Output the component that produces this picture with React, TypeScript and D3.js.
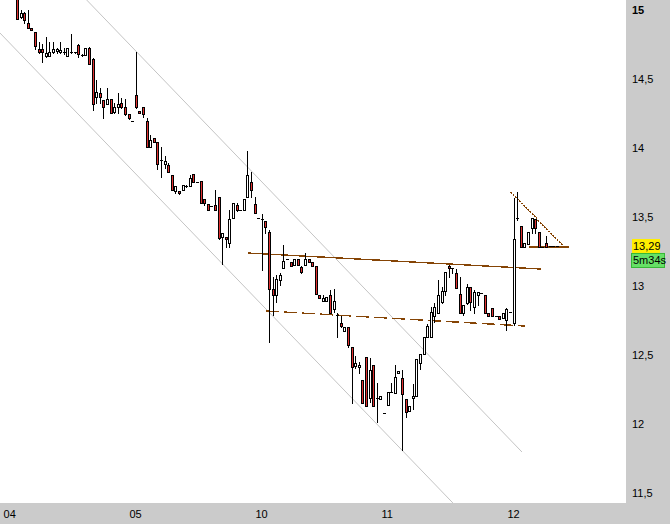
import { scaleLinear } from "d3";

// 15-min candles, index 0 = first visible bar
const open = [
  15.09, 14.949, 14.978, 14.906, 14.87, 14.841, 14.717, 14.717, 14.667, 14.667,
  14.696, 14.703, 14.696, 14.696, 14.667, 14.696, 14.696, 14.746, 14.674, 14.674,
  14.725, 14.645, 14.37, 14.399, 14.348, 14.319, 14.355, 14.261, 14.297, 14.326,
  14.297, 14.246, 14.196, 14.384, 14.268, 14.297, 14.196, 14.007, 14.072, 14.043,
  13.913, 13.884, 13.877, 13.804, 13.688, 13.688, 13.696, 13.725, 13.725, 13.812,
  13.754, 13.761, 13.63, 13.594, 13.58, 13.587, 13.645, 13.355, 13.355, 13.312,
  13.493, 13.587, 13.551, 13.551, 13.645, 13.754, 13.594, 13.493, 13.486, 13.471,
  13.391, 12.978, 12.935, 13.043, 13.13, 13.196, 13.174, 13.152, 13.196, 13.138,
  13.152, 13.196, 13.174, 13.145, 12.935, 12.891, 12.891, 12.935, 12.833, 12.79,
  12.732, 12.674, 12.703, 12.558, 12.42, 12.413, 12.319, 12.486, 12.188, 12.428,
  12.188, 12.181, 12.08, 12.138, 12.232, 12.225, 12.37, 12.333, 12.181, 12.094,
  12.188, 12.203, 12.442, 12.507, 12.63, 12.63, 12.783, 12.804, 12.884, 12.964,
  13.145, 13.13, 13.094, 12.942, 12.804, 12.877, 12.993, 12.848, 12.935, 12.949,
  12.935, 12.804, 12.841, 12.783, 12.783, 12.768, 12.754, 12.812, 12.732, 13.493,
  13.435, 13.283, 13.304, 13.42, 13.486, 13.391, 13.283, 13.312, 13.29, 13.29, 13.29
];
const high = [
  15.1, 15.0, 14.986, 15.0, 14.87, 14.841, 14.768, 14.754, 14.804, 14.768,
  14.768, 14.725, 14.768, 14.725, 14.725, 14.826, 14.696, 14.754, 14.681, 14.725,
  14.732, 14.652, 14.493, 14.435, 14.348, 14.435, 14.355, 14.326, 14.399, 14.362,
  14.355, 14.246, 14.196, 14.696, 14.268, 14.297, 14.217, 14.094, 14.072, 14.043,
  14.007, 13.942, 13.891, 13.804, 13.725, 13.688, 13.732, 13.732, 13.804, 13.812,
  13.754, 13.761, 13.63, 13.594, 13.58, 13.696, 13.645, 13.384, 13.355, 13.551,
  13.601, 13.601, 13.551, 13.63, 13.978, 13.826, 13.645, 13.493, 13.522, 13.471,
  13.406, 13.065, 13.08, 13.094, 13.297, 13.196, 13.174, 13.196, 13.196, 13.145,
  13.239, 13.196, 13.174, 13.145, 12.935, 12.935, 12.92, 12.971, 12.978, 12.804,
  12.783, 12.703, 12.703, 12.558, 12.493, 12.449, 12.319, 12.486, 12.478, 12.428,
  12.297, 12.203, 12.08, 12.232, 12.297, 12.428, 12.384, 12.391, 12.181, 12.13,
  12.29, 12.471, 12.507, 12.63, 12.725, 12.848, 12.877, 13.043, 12.993, 13.101,
  13.152, 13.13, 13.123, 13.065, 12.862, 13.014, 12.993, 12.971, 12.957, 12.949,
  12.935, 12.804, 12.841, 12.783, 12.783, 12.804, 12.841, 12.812, 13.638, 13.681,
  13.435, 13.312, 13.391, 13.493, 13.486, 13.391, 13.283, 13.362, 13.29, 13.29, 13.29
];
const low = [
  14.935, 14.942, 14.906, 14.87, 14.855, 14.717, 14.688, 14.623, 14.659, 14.667,
  14.688, 14.688, 14.688, 14.681, 14.667, 14.688, 14.688, 14.659, 14.667, 14.674,
  14.609, 14.275, 14.326, 14.326, 14.217, 14.319, 14.254, 14.254, 14.254, 14.29,
  14.239, 14.21, 14.196, 14.29, 14.254, 14.225, 14.007, 14.007, 14.043, 13.848,
  13.79, 13.855, 13.826, 13.696, 13.674, 13.667, 13.696, 13.717, 13.725, 13.754,
  13.754, 13.601, 13.587, 13.551, 13.58, 13.551, 13.341, 13.159, 13.283, 13.283,
  13.493, 13.543, 13.551, 13.551, 13.645, 13.645, 13.529, 13.493, 13.116, 13.384,
  12.594, 12.79, 12.884, 13.007, 13.13, 13.196, 13.145, 13.152, 13.152, 13.094,
  13.152, 13.174, 13.145, 12.942, 12.913, 12.891, 12.891, 12.804, 12.812, 12.63,
  12.703, 12.674, 12.558, 12.152, 12.406, 12.37, 12.152, 12.13, 12.159, 12.13,
  12.014, 12.181, 12.08, 12.138, 12.232, 12.225, 12.37, 11.812, 12.051, 12.094,
  12.109, 12.203, 12.399, 12.507, 12.63, 12.63, 12.739, 12.804, 12.877, 12.935,
  13.065, 13.094, 12.986, 12.804, 12.79, 12.87, 12.826, 12.804, 12.862, 12.949,
  12.804, 12.783, 12.783, 12.783, 12.761, 12.768, 12.681, 12.812, 12.717, 13.478,
  13.283, 13.283, 13.304, 13.384, 13.384, 13.283, 13.283, 13.283, 13.29, 13.29, 13.29
];
const close = [
  14.935, 14.978, 14.928, 14.87, 14.855, 14.739, 14.696, 14.696, 14.688, 14.696,
  14.717, 14.717, 14.71, 14.696, 14.725, 14.696, 14.696, 14.681, 14.674, 14.725,
  14.609, 14.319, 14.406, 14.37, 14.297, 14.355, 14.254, 14.297, 14.319, 14.297,
  14.246, 14.217, 14.196, 14.297, 14.254, 14.246, 14.007, 14.058, 14.043, 13.884,
  13.913, 13.906, 13.826, 13.696, 13.725, 13.674, 13.732, 13.725, 13.783, 13.754,
  13.754, 13.601, 13.601, 13.551, 13.58, 13.551, 13.348, 13.384, 13.341, 13.486,
  13.601, 13.551, 13.551, 13.63, 13.804, 13.696, 13.529, 13.493, 13.486, 13.428,
  12.978, 12.935, 13.051, 13.08, 13.181, 13.196, 13.145, 13.196, 13.152, 13.101,
  13.196, 13.174, 13.145, 12.942, 12.913, 12.913, 12.92, 12.804, 12.891, 12.79,
  12.71, 12.703, 12.572, 12.413, 12.442, 12.428, 12.152, 12.13, 12.391, 12.13,
  12.188, 12.203, 12.08, 12.232, 12.232, 12.341, 12.384, 12.217, 12.087, 12.13,
  12.203, 12.471, 12.507, 12.63, 12.71, 12.812, 12.848, 12.935, 12.964, 13.101,
  13.13, 13.13, 12.986, 12.804, 12.862, 12.993, 12.884, 12.957, 12.957, 12.949,
  12.804, 12.783, 12.783, 12.783, 12.761, 12.804, 12.833, 12.812, 13.341, 13.493,
  13.283, 13.312, 13.391, 13.493, 13.42, 13.283, 13.283, 13.283, 13.29, 13.29, 13.29
];

const dayLabels = ["04", "05", "10", "11", "12"];
const dayStartIndex = [-4, 31, 66, 101, 136];
const priceTicks = [15, 14.5, 14, 13.5, 13, 12.5, 12, 11.5];
const lastPrice = 13.29;
const countdown = "5m34s";

// drawn annotations, endpoints as [bar index, price]
const channelLines = [
  [[19.4, 15.072], [140.3, 11.797]],
  [[-4.7, 14.833], [121.1, 11.428]]
];
const resistanceLine = [[64.2, 13.239], [145.6, 13.123]];
const supportLine = [[69.2, 12.819], [141.1, 12.71]];
const pennantTop = [[137.2, 13.681], [151.5, 13.297]];
const pennantBase = [[142.2, 13.283], [153.5, 13.283]];

const width = 670;
const height = 524;
const plotRight = 626;
const plotBottom = 503;
const brown = "#854405";
const fontFamily = "'Liberation Sans', Arial, sans-serif";

function App() {
  const xScale = scaleLinear().domain([-4.7, 169.2]).range([0, plotRight]);
  const yScale = scaleLinear().domain([11.5, 15]).range([493, 10]);

  const seg = (pts: number[][]) => ({
    x1: xScale(pts[0][0]),
    y1: yScale(pts[0][1]),
    x2: xScale(pts[1][0]),
    y2: yScale(pts[1][1])
  });

  const lastY = yScale(lastPrice);

  return (
    <svg
      width={width}
      height={height}
      style={{ position: "absolute", left: 0, top: 0, background: "#fff" }}
      fontFamily={fontFamily}
      fontSize={11}
    >
      <defs>
        <clipPath id="plot">
          <rect x={0} y={0} width={plotRight} height={plotBottom} />
        </clipPath>
      </defs>
      <rect x={0} y={0} width={width} height={height} fill="#fff" />

      <g clipPath="url(#plot)">
        {channelLines.map((l, i) => (
          <line key={i} {...seg(l)} stroke="#c4c4c4" strokeWidth={1} />
        ))}
        <g shapeRendering="crispEdges">
          <line {...seg(resistanceLine)} stroke={brown} strokeWidth={1.4} />
          <line {...seg(supportLine)} stroke={brown} strokeWidth={1.4} strokeDasharray="13 5" />
          <line {...seg(pennantTop)} stroke={brown} strokeWidth={1.4} strokeDasharray="2 1" />
          <line {...seg(pennantBase)} stroke={brown} strokeWidth={1.4} />
        </g>

        <g shapeRendering="crispEdges">
          {open.map((o, i) => {
            const c = close[i];
            const cx = Math.round(xScale(i));
            const top = Math.round(yScale(Math.max(o, c)));
            const bot = Math.round(yScale(Math.min(o, c)));
            const hi = Math.round(yScale(high[i]));
            const lo = Math.round(yScale(low[i]));
            const down = c < o;
            return (
              <g key={i}>
                {lo > hi ? (
                  <line x1={cx + 0.5} x2={cx + 0.5} y1={hi} y2={lo + 1} stroke="#000" />
                ) : null}
                {bot - top >= 2 ? (
                  <rect
                    x={cx - 0.5}
                    y={top + 0.5}
                    width={2}
                    height={bot - top}
                    fill={down ? "#e03131" : "#fff"}
                    stroke="#000"
                  />
                ) : (
                  <line x1={cx - 1} x2={cx + 2} y1={top + 0.5} y2={top + 0.5} stroke="#000" />
                )}
              </g>
            );
          })}
        </g>
      </g>

      {/* axes */}
      <rect x={plotRight} y={0} width={width - plotRight} height={height} fill="#cbcbcb" />
      <rect x={0} y={plotBottom} width={width} height={height - plotBottom} fill="#cbcbcb" />

      {priceTicks.map((v, i) => (
        <text
          key={v}
          x={632}
          y={yScale(v)}
          dominantBaseline="central"
          fontWeight={i === 0 ? "bold" : "normal"}
          fill="#000"
        >
          {String(v).replace(".", ",")}
        </text>
      ))}

      {dayLabels.map((d, i) => (
        <text key={d} x={xScale(dayStartIndex[i]) + 1} y={514} dominantBaseline="central" fill="#000">
          {d}
        </text>
      ))}

      <rect x={632} y={lastY - 7} width={28} height={14} fill="#ffee00" />
      <text x={633} y={lastY} dominantBaseline="central" fill="#000">
        {lastPrice.toFixed(2).replace(".", ",")}
      </text>
      <rect
        x={631.5}
        y={lastY + 7.5}
        width={33}
        height={14}
        fill="#66e066"
        stroke="#36b836"
      />
      <text x={633} y={lastY + 14.5} dominantBaseline="central" fill="#000">
        {countdown}
      </text>
    </svg>
  );
}

export default App;
